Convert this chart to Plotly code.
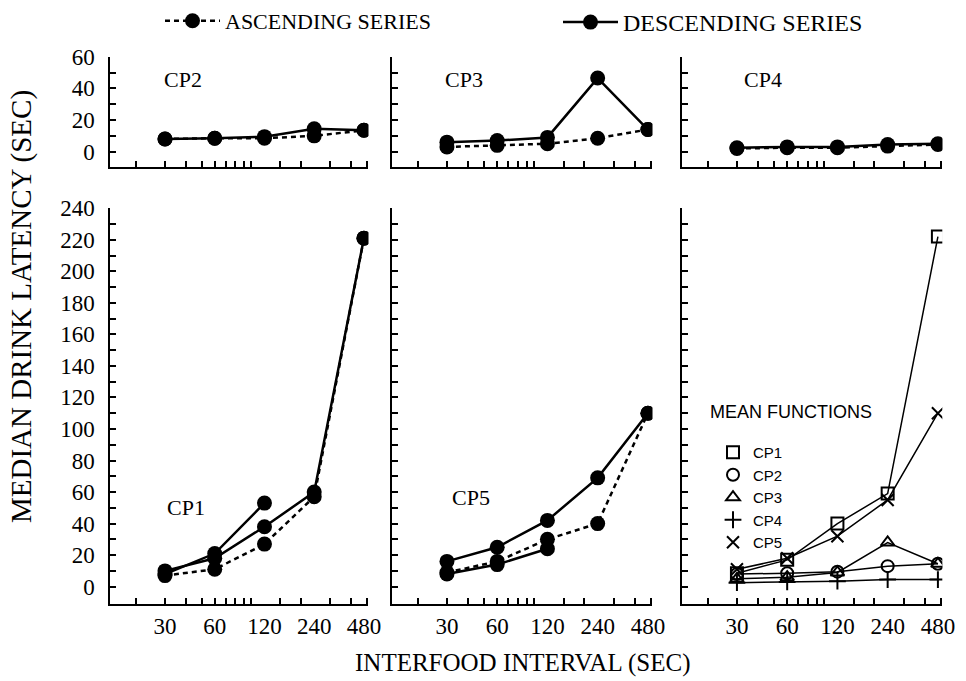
import math
import plotly.graph_objects as go

# ---------------- data ----------------
intervals = [30, 60, 120, 240, 480]
interval_labels = ["30", "60", "120", "240", "480"]
x_minor_ticks = [20, 30, 40, 50, 60, 70, 80, 90, 100, 150, 200, 300, 400, 500]
short_intervals = [30, 60, 120]

top_y_labels = [0, 20, 40, 60]
top_y_minor = [10, 30, 50]
bot_y_labels = list(range(0, 241, 20))
bot_y_minor = list(range(10, 240, 20))

cp1_asc = [7, 11, 27, 57, 221]
cp1_desc = [10, 18, 38, 60, 221]
cp1_desc_rep = [8, 21, 53]

cp2_asc = [8, 8.5, 8.5, 10, 13.5]
cp2_desc = [8, 8.5, 9.5, 14.5, 13.5]

cp3_asc = [3, 4, 5, 8.5, 14]
cp3_desc = [6, 7, 9, 46.5, 14]

cp4_asc = [2, 2.5, 2.5, 3.5, 4.5]
cp4_desc = [2.5, 3, 3, 4.5, 5]

cp5_asc = [9, 16, 30, 40, 110]
cp5_desc = [16, 25, 42, 69, 110]
cp5_desc_rep = [8, 14, 24]

mean_cp1 = [8.5, 17, 40, 59, 222]
mean_cp2 = [8, 8.5, 9.5, 13, 14.5]
mean_cp3 = [5, 6, 9, 28, 14.5]
mean_cp4 = [2.5, 3, 3.5, 4.5, 4.5]
mean_cp5 = [11, 18, 32, 55, 110]

mean_names = ["CP1", "CP2", "CP3", "CP4", "CP5"]
mean_series = [mean_cp1, mean_cp2, mean_cp3, mean_cp4, mean_cp5]
mean_symbols = ["square-open", "circle-open", "triangle-up-open", "cross-thin-open", "x-thin-open"]

# ---------------- style ----------------
SERIF = "Liberation Serif"
SANS = "Liberation Sans"
BLACK = "black"
MSIZE = 15
LW = 2.5
DASH = "5px,4px"

W, H = 966, 681

fig = go.Figure()


def add_pair(xa, ya, asc, desc, show=False):
    fig.add_trace(go.Scatter(
        x=intervals, y=asc, mode="lines+markers", name="ASCENDING SERIES",
        line=dict(color=BLACK, width=LW, dash=DASH),
        marker=dict(symbol="circle", size=MSIZE, color=BLACK),
        xaxis=xa, yaxis=ya, showlegend=show, legend="legend"))
    fig.add_trace(go.Scatter(
        x=intervals, y=desc, mode="lines+markers", name="DESCENDING SERIES",
        line=dict(color=BLACK, width=LW),
        marker=dict(symbol="circle", size=MSIZE, color=BLACK),
        xaxis=xa, yaxis=ya, showlegend=show, legend="legend3"))


def add_rep(xa, ya, vals):
    fig.add_trace(go.Scatter(
        x=short_intervals, y=vals, mode="lines+markers", name="DESCENDING SERIES",
        line=dict(color=BLACK, width=LW),
        marker=dict(symbol="circle", size=MSIZE, color=BLACK),
        xaxis=xa, yaxis=ya, showlegend=False))


add_pair("x4", "y4", cp1_asc, cp1_desc, show=True)
add_rep("x4", "y4", cp1_desc_rep)
add_pair("x", "y", cp2_asc, cp2_desc)
add_pair("x2", "y2", cp3_asc, cp3_desc)
add_pair("x3", "y3", cp4_asc, cp4_desc)
add_pair("x5", "y5", cp5_asc, cp5_desc)
add_rep("x5", "y5", cp5_desc_rep)

for name, vals, sym in zip(mean_names, mean_series, mean_symbols):
    fig.add_trace(go.Scatter(
        x=intervals, y=vals, mode="lines+markers", name=name,
        line=dict(color=BLACK, width=1.5),
        marker=dict(symbol=sym, size=12, color=BLACK, line=dict(color=BLACK, width=2)),
        xaxis="x6", yaxis="y6", showlegend=False))
# marker-only keys for the mean-functions legend
for name, sym in zip(mean_names, mean_symbols):
    fig.add_trace(go.Scatter(
        x=[None], y=[None], mode="markers", name=name,
        marker=dict(symbol=sym, size=12, color=BLACK, line=dict(color=BLACK, width=2)),
        xaxis="x6", yaxis="y6", showlegend=True, legend="legend2"))

# ---------------- axes ----------------
XR = [math.log10(14), math.log10(510)]
x_domains_px = [(110.3, 368.3), (391.7, 652.3), (681.7, 942.3)]
top_px = (56.7, 166.7)
bot_px = (208.2, 604.0)


def xdom(p):
    return [p[0] / W, p[1] / W]


def ydom(p):
    return [1 - p[1] / H, 1 - p[0] / H]


tickfont = dict(family=SERIF, size=23, color=BLACK)


def xaxis(dom, anchor, labels):
    return dict(
        type="log", range=XR, domain=xdom(dom), anchor=anchor,
        showline=True, linecolor=BLACK, linewidth=2, showgrid=False, zeroline=False,
        tickmode="array", tickvals=intervals, ticktext=interval_labels, ticks="",
        showticklabels=labels, tickfont=tickfont, ticklabelstandoff=0, tickangle=0,
        minor=dict(tickmode="array", tickvals=x_minor_ticks, ticks="inside",
                   ticklen=6, tickwidth=2, tickcolor=BLACK, showgrid=False),
        fixedrange=True)


def yaxis(dom, anchor, rng, major, minor, labels):
    return dict(
        range=rng, domain=ydom(dom), anchor=anchor,
        showline=True, linecolor=BLACK, linewidth=2, showgrid=False, zeroline=False,
        tickmode="array", tickvals=major, ticks="inside", ticklen=6, tickwidth=2,
        tickcolor=BLACK, showticklabels=labels, tickfont=tickfont, ticklabelstandoff=9,
        minor=dict(tickmode="array", tickvals=minor, ticks="inside",
                   ticklen=6, tickwidth=2, tickcolor=BLACK, showgrid=False),
        fixedrange=True)


TOP_R = [-9.5, 60]
BOT_R = [-11, 240]

fig.update_layout(
    xaxis=xaxis(x_domains_px[0], "y", False),
    xaxis2=xaxis(x_domains_px[1], "y2", False),
    xaxis3=xaxis(x_domains_px[2], "y3", False),
    xaxis4=xaxis(x_domains_px[0], "y4", True),
    xaxis5=xaxis(x_domains_px[1], "y5", True),
    xaxis6=xaxis(x_domains_px[2], "y6", True),
    yaxis=yaxis(top_px, "x", TOP_R, top_y_labels, top_y_minor, True),
    yaxis2=yaxis(top_px, "x2", TOP_R, top_y_labels, top_y_minor, False),
    yaxis3=yaxis(top_px, "x3", TOP_R, top_y_labels, top_y_minor, False),
    yaxis4=yaxis(bot_px, "x4", BOT_R, bot_y_labels, bot_y_minor, True),
    yaxis5=yaxis(bot_px, "x5", BOT_R, bot_y_labels, bot_y_minor, False),
    yaxis6=yaxis(bot_px, "x6", BOT_R, bot_y_labels, bot_y_minor, False),
)

# ---------------- annotations ----------------
panel_labels = [
    ("CP2", "x domain", "y domain", 0.20, 0.79),
    ("CP3", "x2 domain", "y2 domain", 0.197, 0.79),
    ("CP4", "x3 domain", "y3 domain", 0.23, 0.79),
    ("CP1", "x4 domain", "y4 domain", 0.212, 0.245),
    ("CP5", "x5 domain", "y5 domain", 0.224, 0.268),
]
annotations = []
for txt, xr, yr, xx, yy in panel_labels:
    annotations.append(dict(text=txt, xref=xr, yref=yr, x=xx, y=yy, xanchor="left",
                            yanchor="middle", showarrow=False,
                            font=dict(family=SERIF, size=22, color=BLACK)))
annotations.append(dict(text="INTERFOOD INTERVAL (SEC)", xref="paper", yref="paper",
                        x=523 / W, y=1 - 663 / H, xanchor="center", yanchor="middle",
                        showarrow=False, font=dict(family=SERIF, size=25, color=BLACK)))
annotations.append(dict(text="MEDIAN DRINK LATENCY (SEC)", xref="paper", yref="paper",
                        x=22 / W, y=1 - 307 / H, xanchor="center", yanchor="middle",
                        textangle=-90, showarrow=False,
                        font=dict(family=SERIF, size=29, color=BLACK)))
annotations.append(dict(text="MEAN FUNCTIONS", xref="paper", yref="paper",
                        x=708 / W, y=1 - 412 / H, xanchor="left", yanchor="middle",
                        showarrow=False, font=dict(family=SANS, size=18, color=BLACK)))

legend_common = dict(orientation="v", yanchor="top", xanchor="left",
                     bgcolor="rgba(0,0,0,0)", itemclick=False, itemdoubleclick=False)

fig.update_layout(
    width=W, height=H,
    margin=dict(l=0, r=0, t=0, b=0, autoexpand=False),
    paper_bgcolor="white", plot_bgcolor="white",
    font=dict(family=SERIF, color=BLACK),
    annotations=annotations,
    legend=dict(x=160 / W, y=1.0, itemwidth=55,
                font=dict(family=SERIF, size=22, color=BLACK), **legend_common),
    legend3=dict(x=558 / W, y=1.0, itemwidth=55,
                 font=dict(family=SERIF, size=24, color=BLACK), **legend_common),
    legend2=dict(x=713 / W, y=1 - 436 / H, itemwidth=30, tracegroupgap=0,
                 font=dict(family=SANS, size=15, color=BLACK), **legend_common),
)

fig.write_html("out.html")
